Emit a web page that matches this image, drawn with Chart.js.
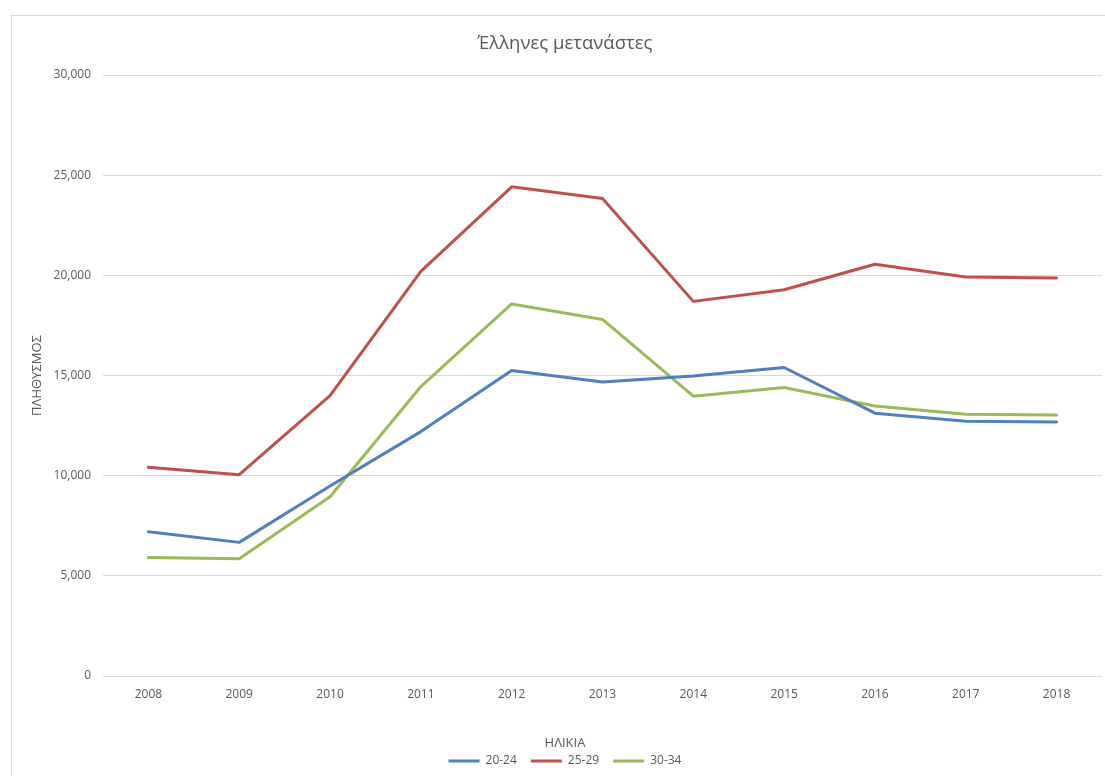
<!DOCTYPE html>
<html>
<head>
<meta charset="utf-8">
<script src="https://cdn.jsdelivr.net/npm/chart.js@4.4.1/dist/chart.umd.min.js"></script>
<style>
  html, body { margin: 0; padding: 0; background: #fff; overflow: hidden; }
  #frame {
    position: absolute; left: 11px; top: 15px; width: 1300px; height: 900px;
    border: 1px solid #d9d9d9; box-sizing: border-box;
  }
  #wrap { position: absolute; left: 0; top: 0; width: 1105px; height: 776px; }
</style>
</head>
<body>
<div id="frame"></div>
<div id="wrap"><canvas id="chartCanvas"></canvas></div>
<script>
const years = ["2008", "2009", "2010", "2011", "2012", "2013", "2014", "2015", "2016", "2017", "2018"];
const age2024 = [7200, 6670, 9480, 12200, 15250, 14670, 14980, 15400, 13120, 12720, 12680];
const age2529 = [10420, 10050, 14000, 20200, 24420, 23830, 18700, 19280, 20550, 19920, 19870];
const age3034 = [5920, 5850, 8950, 14450, 18570, 17800, 13970, 14400, 13480, 13070, 13030];
const seriesNames = ["20-24", "25-29", "30-34"];
const colors = ["#4F81BD", "#C0504D", "#9BBB59"];

const font = "'Open Sans', 'DejaVu Sans', sans-serif";
const textColor = "#595959";

function lineSet(label, data, color) {
  return {
    label,
    data,
    borderColor: color,
    backgroundColor: color,
    borderWidth: 3,
    pointRadius: 0,
    pointHoverRadius: 0,
    tension: 0,
    borderJoinStyle: "round",
    borderCapStyle: "round",
    fill: false,
  };
}

// title, axis title and legend in the original are centred a bit right of the canvas centre
const shiftBlocks = {
  id: "shiftBlocks",
  afterLayout(chart) {
    chart.boxes.forEach((b) => {
      if (b.axis) return; // leave the scales alone
      b.left += 14;
      b.right += 14;
    });
  },
};

const ctx = document.getElementById("chartCanvas").getContext("2d");
new Chart(ctx, {
  type: "line",
  data: {
    labels: years,
    datasets: [
      lineSet(seriesNames[0], age2024, colors[0]),
      lineSet(seriesNames[1], age2529, colors[1]),
      lineSet(seriesNames[2], age3034, colors[2]),
    ],
  },
  plugins: [shiftBlocks],
  options: {
    responsive: true,
    maintainAspectRatio: false,
    animation: false,
    layout: { padding: { left: 0, right: 3, top: 0, bottom: -1 } },
    plugins: {
      title: {
        display: true,
        text: "Έλληνες μετανάστες",
        color: textColor,
        font: { family: font, size: 18.5, weight: "normal" },
        padding: { top: 32.4, bottom: 20.4 },
      },
      // x-axis title "ΗΛΙΚΙΑ", drawn as a bottom subtitle so it centres like the original
      subtitle: {
        display: true,
        position: "bottom",
        weight: 500,
        text: "ΗΛΙΚΙΑ",
        color: textColor,
        font: { family: font, size: 13, weight: "normal" },
        padding: { top: 22.8, bottom: -9.8 },
      },
      legend: {
        position: "bottom",
        labels: {
          usePointStyle: true,
          pointStyle: "line",
          pointStyleWidth: 31,
          boxHeight: 12,
          padding: 14,
          color: textColor,
          font: { family: font, size: 12 },
        },
      },
      tooltip: { enabled: false },
    },
    scales: {
      x: {
        offset: true,
        grid: { display: false, drawTicks: false },
        border: { display: false },
        ticks: {
          color: textColor,
          padding: 11,
          font: { family: font, size: 12 },
        },
      },
      y: {
        min: 0,
        max: 30000,
        grid: { color: "#d9d9d9", lineWidth: 1, drawTicks: false },
        border: { display: false },
        ticks: {
          stepSize: 5000,
          padding: 12,
          color: textColor,
          font: { family: font, size: 12 },
          callback: (v) => v.toLocaleString("en-US"),
        },
        title: {
          display: true,
          text: "ΠΛΗΘΥΣΜΟΣ",
          color: textColor,
          font: { family: font, size: 13 },
          padding: { top: 29.2, bottom: 0 },
        },
        afterFit: (scale) => { scale.width = 103; },
      },
    },
  },
});
</script>
</body>
</html>
